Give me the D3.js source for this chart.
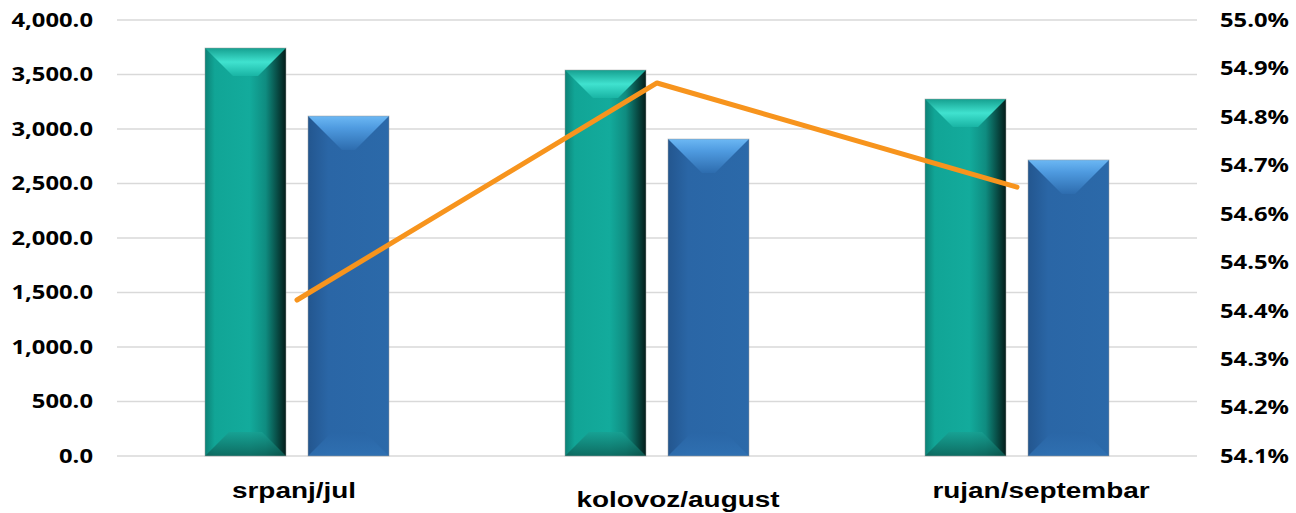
<!DOCTYPE html>
<html>
<head>
<meta charset="utf-8">
<script src="https://cdn.jsdelivr.net/npm/d3@7"></script>
<style>
  html, body { margin: 0; padding: 0; background: #fff; }
  .tick-label { font-family: "Open Sans", "Noto Sans", sans-serif; font-weight: 700; font-size: 19.5px; fill: #000; }
  .cat-label { font-family: "Liberation Sans", Arial, sans-serif; font-weight: 700; font-size: 22px; fill: #000; }
</style>
</head>
<body>
<div id="chart"></div>
<script>
const categories = ["srpanj/jul", "kolovoz/august", "rujan/septembar"];
const seriesA = [3743, 3541, 3275];
const seriesB = [3119, 2908, 2716];
const lineValues = [54.422, 54.870, 54.655];
const leftTicks = [0, 500, 1000, 1500, 2000, 2500, 3000, 3500, 4000];
const rightTicks = [54.1, 54.2, 54.3, 54.4, 54.5, 54.6, 54.7, 54.8, 54.9, 55.0];

const width = 1296, height = 513;
const plot = { left: 117, right: 1197, top: 20, bottom: 456 };
// excel-style staggered category labels
const labelShift = [[-3, 42], [21, 51], [24, 42]];
// source picture is stretched horizontally
const tickStretch = 1.22, catStretch = 1.27;

const svg = d3.select("#chart").append("svg")
    .attr("width", width).attr("height", height);
const defs = svg.append("defs");

const x = d3.scaleBand().domain(categories).range([plot.left, plot.right]);
const x1 = d3.scaleBand().domain(["a", "b"]).range([88, 272]).paddingInner(0.214);
const yL = d3.scaleLinear().domain([0, 4000]).range([plot.bottom, plot.top]);
const yR = d3.scaleLinear().domain([54.1, 55.0]).range([plot.bottom, plot.top]);

function grad(id, stops, vertical) {
    const g = defs.append("linearGradient").attr("id", id)
        .attr("x1", 0).attr("y1", 0).attr("x2", vertical ? 0 : 1).attr("y2", vertical ? 1 : 0);
    stops.forEach(([o, c]) => g.append("stop").attr("offset", o).attr("stop-color", c));
}
const styles = {
    a: { body: "aBody", top: "aTop", bot: "aBot", bevel: 28 },
    b: { body: "bBody", top: "bTop", bot: "bBot", bevel: 34 }
};
grad("aBody", [[0, "#0c8276"], [0.12, "#11a596"], [0.55, "#13ab9c"], [0.75, "#0f8c80"], [1, "#031c19"]]);
grad("aTop", [[0, "#15a090"], [0.5, "#40e2cf"], [1, "#19b4a4"]], true);
grad("aBot", [[0, "#18a092"], [1, "#0c5e55"]], true);
grad("bBody", [[0, "#23568f"], [0.25, "#2a66a6"], [1, "#2b69a9"]]);
grad("bTop", [[0, "#6cb8f4"], [0.35, "#4f9be0"], [1, "#2d6cae"]], true);
grad("bBot", [[0, "#2a66a6"], [1, "#3072b4"]], true);

function stretchedText(sel, k) {
    return sel.attr("transform", d => `translate(${d.tx},${d.ty}) scale(${k},1)`);
}

// gridlines
svg.append("g").selectAll("line").data(leftTicks).join("line")
    .attr("x1", plot.left).attr("x2", plot.right)
    .attr("y1", d => yL(d)).attr("y2", d => yL(d))
    .attr("stroke", "#d9d9d9").attr("stroke-width", 1.5);

// left axis labels
svg.append("g").selectAll("text")
    .data(leftTicks.map(v => ({ v, tx: 93, ty: yL(v) })))
    .join("text")
    .attr("class", "tick-label")
    .attr("dy", "0.35em")
    .attr("text-anchor", "end")
    .call(stretchedText, tickStretch)
    .text(d => d3.format(",.1f")(d.v));

// right axis labels
svg.append("g").selectAll("text")
    .data(rightTicks.map(v => ({ v, tx: 1289, ty: yR(v) })))
    .join("text")
    .attr("class", "tick-label")
    .attr("dy", "0.35em")
    .attr("text-anchor", "end")
    .call(stretchedText, tickStretch)
    .text(d => d.v.toFixed(1) + "%");

// bars with bevel
const bars = [];
categories.forEach((c, i) => {
    bars.push({ cat: c, key: "a", value: seriesA[i] });
    bars.push({ cat: c, key: "b", value: seriesB[i] });
});
const bevelBot = 24;
const barG = svg.append("g");
bars.forEach(d => {
    const x0 = x(d.cat) + x1(d.key), w = x1.bandwidth();
    const y0 = yL(d.value), y1 = yL(0);
    const s = styles[d.key], bt = s.bevel;
    const g = barG.append("g");
    g.append("rect").attr("x", x0).attr("y", y0).attr("width", w).attr("height", y1 - y0)
        .attr("fill", `url(#${s.body})`);
    g.append("path")
        .attr("d", `M${x0},${y0}L${x0 + w},${y0}L${x0 + w - bt},${y0 + bt}L${x0 + bt},${y0 + bt}Z`)
        .attr("fill", `url(#${s.top})`);
    g.append("path")
        .attr("d", `M${x0},${y1}L${x0 + w},${y1}L${x0 + w - bevelBot},${y1 - bevelBot}L${x0 + bevelBot},${y1 - bevelBot}Z`)
        .attr("fill", `url(#${s.bot})`).attr("opacity", 0.8);
    g.append("rect").attr("x", x0).attr("y", y0).attr("width", w).attr("height", y1 - y0)
        .attr("fill", "none").attr("stroke", "#9a9a9a").attr("stroke-width", 0.8).attr("stroke-opacity", 0.6);
});

// line series
const line = d3.line()
    .x((d, i) => x(categories[i]) + x.bandwidth() / 2)
    .y(d => yR(d));
svg.append("path").datum(lineValues)
    .attr("d", line)
    .attr("fill", "none")
    .attr("stroke", "#f7941d")
    .attr("stroke-width", 5)
    .attr("stroke-linecap", "round")
    .attr("stroke-linejoin", "round");

// category labels
svg.append("g").selectAll("text")
    .data(categories.map((c, i) => ({
        c, tx: x(c) + x.bandwidth() / 2 + labelShift[i][0], ty: plot.bottom + labelShift[i][1]
    })))
    .join("text")
    .attr("class", "cat-label")
    .attr("text-anchor", "middle")
    .call(stretchedText, catStretch)
    .text(d => d.c);
</script>
</body>
</html>
